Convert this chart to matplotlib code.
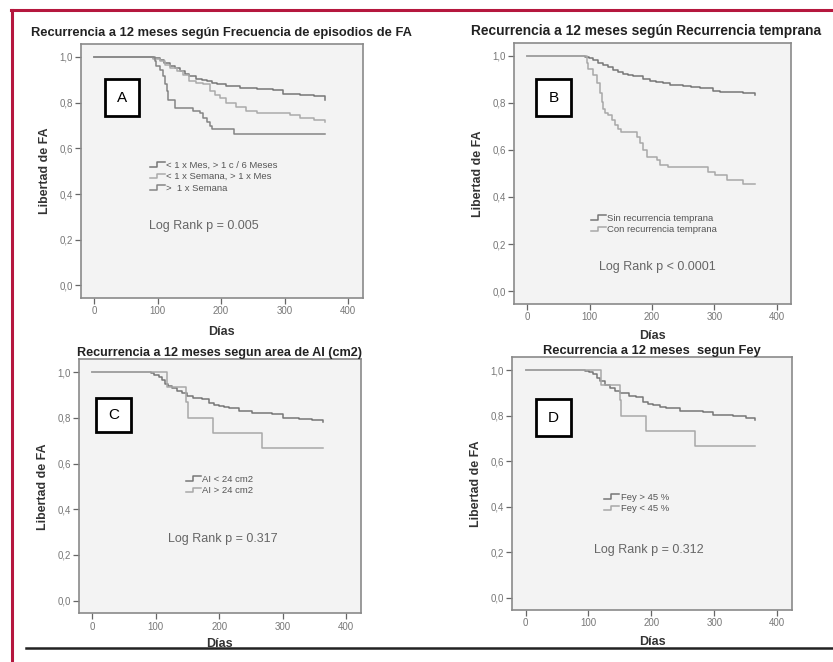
import numpy as np
import matplotlib
matplotlib.use('Agg')
import matplotlib.pyplot as plt
from matplotlib.lines import Line2D
from matplotlib.patches import Rectangle
from matplotlib.legend_handler import HandlerBase
from matplotlib.ticker import FuncFormatter

plt.rcParams['font.family'] = ['Liberation Sans', 'DejaVu Sans']

# ---- data (days, survival) ----
# Panel A: frecuencia de episodios
a_mes_t = [0, 93, 103, 110, 119, 127, 135, 143, 150, 161, 170, 177, 186, 193, 208, 229, 256, 282, 298, 324, 346, 364]
a_mes_s = [1.0, 0.995, 0.985, 0.972, 0.962, 0.950, 0.937, 0.925, 0.915, 0.904, 0.897, 0.893, 0.885, 0.879, 0.871, 0.864, 0.860, 0.854, 0.839, 0.835, 0.828, 0.813]
a_sem_t = [0, 93, 103, 112, 120, 131, 140, 150, 161, 171, 182, 190, 198, 208, 224, 240, 256, 309, 324, 346, 364]
a_sem_s = [1.0, 0.992, 0.980, 0.966, 0.951, 0.937, 0.922, 0.893, 0.886, 0.879, 0.849, 0.835, 0.820, 0.799, 0.781, 0.762, 0.755, 0.747, 0.733, 0.725, 0.716]
a_1sem_t = [0, 95, 98, 104, 108, 111, 114, 117, 128, 155, 166, 172, 177, 182, 185, 220, 364]
a_1sem_s = [1.0, 0.980, 0.962, 0.941, 0.915, 0.879, 0.849, 0.813, 0.777, 0.762, 0.755, 0.733, 0.716, 0.699, 0.685, 0.662, 0.662]

# Panel B: recurrencia temprana
b_sin_t = [0, 92, 99, 106, 114, 122, 130, 138, 146, 154, 162, 170, 186, 197, 207, 218, 229, 250, 263, 277, 298, 309, 346, 365]
b_sin_s = [1.0, 0.995, 0.990, 0.982, 0.971, 0.960, 0.951, 0.942, 0.933, 0.925, 0.919, 0.914, 0.900, 0.895, 0.890, 0.884, 0.878, 0.871, 0.867, 0.864, 0.851, 0.846, 0.843, 0.833]
b_con_t = [0, 95, 97, 106, 111, 117, 119, 122, 125, 130, 135, 141, 146, 151, 157, 176, 181, 186, 192, 208, 213, 226, 290, 301, 320, 346, 365]
b_con_s = [1.0, 0.968, 0.946, 0.918, 0.883, 0.840, 0.804, 0.776, 0.755, 0.748, 0.727, 0.705, 0.691, 0.677, 0.677, 0.656, 0.628, 0.599, 0.571, 0.557, 0.535, 0.526, 0.507, 0.493, 0.472, 0.455, 0.455]

# Panel C: area de AI
c_menor_t = [0, 92, 98, 105, 110, 115, 120, 126, 134, 142, 150, 158, 173, 184, 192, 200, 208, 216, 231, 252, 284, 300, 326, 347, 364]
c_menor_s = [1.0, 0.996, 0.988, 0.979, 0.965, 0.950, 0.940, 0.929, 0.918, 0.907, 0.897, 0.887, 0.882, 0.863, 0.857, 0.851, 0.846, 0.841, 0.829, 0.819, 0.815, 0.800, 0.793, 0.790, 0.782]
c_mayor_t = [0, 118, 147, 151, 190, 267, 364]
c_mayor_s = [1.0, 0.933, 0.867, 0.800, 0.733, 0.667, 0.667]

# Panel D: Fey
d_mayor_t = [0, 94, 101, 107, 113, 118, 126, 134, 142, 150, 165, 176, 187, 195, 203, 214, 224, 245, 282, 298, 330, 351, 364]
d_mayor_s = [1.0, 0.995, 0.990, 0.982, 0.966, 0.950, 0.935, 0.921, 0.910, 0.899, 0.887, 0.880, 0.859, 0.852, 0.845, 0.839, 0.833, 0.821, 0.815, 0.803, 0.796, 0.789, 0.781]
d_menor_t = [0, 120, 150, 152, 192, 269, 364]
d_menor_s = [1.0, 0.933, 0.867, 0.800, 0.733, 0.667, 0.667]

titles = ['Recurrencia a 12 meses según Frecuencia de episodios de FA',
          'Recurrencia a 12 meses según Recurrencia temprana',
          'Recurrencia a 12 meses segun area de AI (cm2)',
          'Recurrencia a 12 meses  segun Fey']
letters = ['A', 'B', 'C', 'D']
pvals = ['Log Rank p = 0.005', 'Log Rank p < 0.0001', 'Log Rank p = 0.317', 'Log Rank p = 0.312']

panels = [
    [(a_mes_t, a_mes_s, '< 1 x Mes, > 1 c / 6 Meses', '#777777'),
     (a_sem_t, a_sem_s, '< 1 x Semana, > 1 x Mes', '#ababab'),
     (a_1sem_t, a_1sem_s, '>  1 x Semana', '#858585')],
    [(b_sin_t, b_sin_s, 'Sin recurrencia temprana', '#767676'),
     (b_con_t, b_con_s, 'Con recurrencia temprana', '#a8a8a8')],
    [(c_menor_t, c_menor_s, 'AI < 24 cm2', '#767676'),
     (c_mayor_t, c_mayor_s, 'AI > 24 cm2', '#a8a8a8')],
    [(d_mayor_t, d_mayor_s, 'Fey > 45 %', '#767676'),
     (d_menor_t, d_menor_s, 'Fey < 45 %', '#a8a8a8')],
]

# layout (figure fractions) and per-panel placements
axes_pos = [(0.0972, 0.5498, 0.3380, 0.3837),
            (0.6174, 0.5408, 0.3322, 0.3947),
            (0.0948, 0.0736, 0.3382, 0.3837),
            (0.6150, 0.0785, 0.3354, 0.3817)]
title_x = [0.5, 0.476, 0.5, 0.5]
title_pad = [6.0, 5.5, 2.5, 2.5]
title_size = [9.3, 9.9, 9.1, 9.3]
xlabel_pad = [7.0, 5.6, 4.6, 5.6]
box_pos = [(0.146, 0.789, 0.122, 0.143), (0.142, 0.790, 0.126, 0.139),
           (0.122, 0.781, 0.123, 0.135), (0.147, 0.761, 0.125, 0.145)]
leg_pos = [(0.245, 0.540), (0.277, 0.345), (0.379, 0.545), (0.329, 0.463)]
p_pos = [(0.438, 0.283), (0.518, 0.143), (0.510, 0.293), (0.489, 0.237)]


class StepHandler(HandlerBase):
    def create_artists(self, legend, orig_handle, xdescent, ydescent,
                       width, height, fontsize, trans):
        x0, y0 = -xdescent, -ydescent
        xs = [x0, x0 + 0.45 * width, x0 + 0.45 * width, x0 + width]
        ys = [y0 + 0.15 * height, y0 + 0.15 * height, y0 + 0.85 * height, y0 + 0.85 * height]
        ln = Line2D(xs, ys, color=orig_handle.get_color(),
                    lw=orig_handle.get_linewidth(), transform=trans)
        return [ln]


comma = FuncFormatter(lambda v, p: ('%.1f' % v).replace('.', ','))

fig = plt.figure(figsize=(8.33, 6.62), dpi=100)
fig.patch.set_facecolor('white')

for i, curves in enumerate(panels):
    ax = fig.add_axes(axes_pos[i])
    ax.set_facecolor('#f3f3f3')
    handles = []
    for t, s, lab, col in curves:
        h, = ax.step(t, s, where='post', color=col, lw=1.1, label=lab)
        handles.append(h)
    ax.set_xlim(-21, 423)
    ax.set_ylim(-0.055, 1.056)
    ax.set_xticks([0, 100, 200, 300, 400])
    ax.set_yticks([0, 0.2, 0.4, 0.6, 0.8, 1.0])
    ax.yaxis.set_major_formatter(comma)
    ax.tick_params(length=4, width=0.9, color='#666666', labelcolor='#777777',
                   labelsize=7, pad=2)
    for sp in ax.spines.values():
        sp.set_color('#8a8a8a')
        sp.set_linewidth(1.2)
    ax.set_title(titles[i], fontsize=title_size[i], fontweight='bold', x=title_x[i],
                 pad=title_pad[i], color='#222222')
    ax.set_xlabel('Días', fontsize=9, fontweight='bold', labelpad=xlabel_pad[i], color='#333333')
    ax.set_ylabel('Libertad de FA', fontsize=8.9, fontweight='bold', labelpad=6, color='#333333')

    bx, by, bw, bh = box_pos[i]
    ax.add_patch(Rectangle((bx - bw / 2, by - bh / 2), bw, bh, transform=ax.transAxes,
                           facecolor='white', edgecolor='black', lw=2.0, zorder=5))
    ax.text(bx, by, letters[i], transform=ax.transAxes, ha='center', va='center',
            fontsize=11, zorder=6)

    leg = ax.legend(handles=handles, loc='upper left', bbox_to_anchor=leg_pos[i],
                    frameon=False, fontsize=6.8, handlelength=1.6, handletextpad=0.15,
                    labelspacing=0.25, borderpad=0, borderaxespad=0,
                    handler_map={Line2D: StepHandler()})
    for txt in leg.get_texts():
        txt.set_color('#555555')

    ax.text(p_pos[i][0], p_pos[i][1], pvals[i], transform=ax.transAxes,
            ha='center', va='center', fontsize=9, color='#666666')

# page decorations
fig.add_artist(Line2D([0.0132, 1.0], [0.9849, 0.9849], color='#b5173e', lw=2.2,
                      transform=fig.transFigure))
fig.add_artist(Line2D([0.0140, 0.0140], [0.0, 0.9849], color='#b5173e', lw=2.2,
                      transform=fig.transFigure))
fig.add_artist(Line2D([0.031, 1.0], [0.0207, 0.0207], color='#222222', lw=1.8,
                      transform=fig.transFigure))

fig.savefig('out.png', dpi=100)
